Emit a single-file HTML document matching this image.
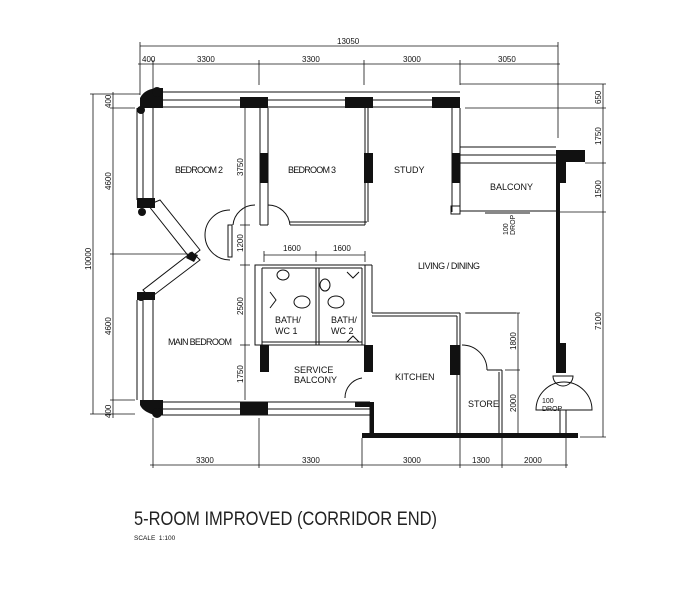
<!DOCTYPE html>
<html><head><style>
body{margin:0;background:#fff;}
svg{display:block;font-family:"Liberation Sans",sans-serif;}
.t{font-size:9px;fill:#111;}
.d{font-size:8px;fill:#111;}
</style></head><body>
<svg width="680" height="600" viewBox="0 0 680 600" xmlns="http://www.w3.org/2000/svg">
<rect width="680" height="600" fill="#fff"/>
<g stroke="#111" stroke-width="0.8" fill="none">
<line x1="140" y1="46" x2="558" y2="46"/>
<line x1="140" y1="42" x2="140" y2="95"/><line x1="558" y1="42" x2="558" y2="138"/>
<line x1="138" y1="64" x2="560" y2="64"/>
<line x1="153" y1="60" x2="153" y2="92"/><line x1="259" y1="60" x2="259" y2="85"/>
<line x1="364" y1="60" x2="364" y2="85"/><line x1="460" y1="60" x2="460" y2="85"/>
<line x1="93" y1="94" x2="93" y2="414"/><line x1="113" y1="92" x2="113" y2="418"/>
<line x1="90" y1="94" x2="140" y2="94"/><line x1="110" y1="108" x2="135" y2="108"/>
<line x1="110" y1="254" x2="195" y2="254"/><line x1="110" y1="400" x2="135" y2="400"/>
<line x1="90" y1="414" x2="135" y2="414"/>
<line x1="603" y1="84" x2="603" y2="437"/>
<line x1="460" y1="84" x2="606" y2="84"/><line x1="465" y1="108" x2="606" y2="108"/>
<line x1="585" y1="163" x2="606" y2="163"/><line x1="560" y1="212" x2="606" y2="212"/>
<line x1="580" y1="437" x2="606" y2="437"/>
<line x1="518" y1="313" x2="518" y2="437"/><line x1="465" y1="313" x2="520" y2="313"/><line x1="505" y1="370" x2="520" y2="370"/>
<line x1="150" y1="465" x2="568" y2="465"/>
<line x1="153" y1="418" x2="153" y2="468"/><line x1="259" y1="418" x2="259" y2="468"/>
<line x1="362" y1="438" x2="362" y2="468"/><line x1="460" y1="438" x2="460" y2="468"/>
<line x1="502" y1="438" x2="502" y2="468"/><line x1="566" y1="438" x2="566" y2="468"/>
<line x1="245" y1="108" x2="245" y2="400"/>
<line x1="240" y1="225" x2="250" y2="225"/><line x1="240" y1="265" x2="250" y2="265"/><line x1="240" y1="345" x2="250" y2="345"/>
<line x1="264" y1="255" x2="365" y2="255"/>
<line x1="264" y1="251" x2="264" y2="262"/><line x1="316" y1="251" x2="316" y2="262"/><line x1="365" y1="251" x2="365" y2="262"/>
</g>
<g stroke="#111" stroke-width="1" fill="none">
<line x1="160" y1="92" x2="460" y2="92"/><line x1="160" y1="100" x2="460" y2="100"/><line x1="160" y1="107" x2="460" y2="107"/>
<line x1="137" y1="108" x2="137" y2="200"/><line x1="143" y1="108" x2="143" y2="200"/><line x1="153" y1="108" x2="153" y2="200"/>
<polygon points="148,205 160,200 200,250 190,258"/>
<polygon points="143,290 150,298 200,260 192,252"/>
<line x1="137" y1="300" x2="137" y2="400"/><line x1="143" y1="300" x2="143" y2="400"/><line x1="153" y1="300" x2="153" y2="400"/>
<line x1="160" y1="402" x2="370" y2="402"/><line x1="160" y1="409" x2="370" y2="409"/><line x1="160" y1="415" x2="370" y2="415"/>
<line x1="370" y1="402" x2="370" y2="435"/>
<line x1="260" y1="108" x2="260" y2="225"/><line x1="268" y1="108" x2="268" y2="225"/>
<line x1="260" y1="225" x2="268" y2="225"/>
<path d="M268,205 A22,22 0 0 1 290,225"/><path d="M255,205 A22,22 0 0 0 233,225"/>
<line x1="290" y1="225" x2="365" y2="225"/><line x1="290" y1="222" x2="367" y2="222"/>
<line x1="365" y1="108" x2="365" y2="225"/><line x1="368" y1="108" x2="368" y2="222"/>
<line x1="452" y1="108" x2="452" y2="212"/><line x1="460" y1="108" x2="460" y2="212"/>
<rect x="451" y="206" width="9" height="8"/>
<line x1="460" y1="147" x2="556" y2="147"/><line x1="460" y1="155" x2="556" y2="155"/><line x1="460" y1="163" x2="556" y2="163"/>
<line x1="460" y1="211" x2="556" y2="211"/><line x1="485" y1="213" x2="530" y2="213"/>
<path d="M230,210 A25,25 0 0 0 230,260"/><rect x="228" y="225" width="4" height="32"/>
<rect x="255" y="265" width="110" height="80"/>
<line x1="262" y1="268" x2="262" y2="345"/>
<line x1="316" y1="268" x2="316" y2="345"/><line x1="319" y1="268" x2="319" y2="345"/>
<line x1="262" y1="268" x2="362" y2="268"/><line x1="362" y1="268" x2="362" y2="345"/>
<line x1="262" y1="342" x2="362" y2="342"/>
<ellipse cx="283" cy="275" rx="6" ry="5"/><ellipse cx="325" cy="285" rx="5" ry="6"/>
<ellipse cx="302" cy="302" rx="8" ry="6"/><ellipse cx="336" cy="302" rx="8" ry="6"/>
<path d="M270,292 L276,300 L270,308"/><path d="M347,272 L353,278 L359,272"/><path d="M347,342 L353,336 L359,342"/>
<path d="M345,398 A20,20 0 0 1 362,378"/>
<line x1="365" y1="265" x2="372" y2="265"/><line x1="372" y1="265" x2="372" y2="313"/>
<line x1="372" y1="313" x2="460" y2="313"/><line x1="372" y1="316" x2="457" y2="316"/>
<line x1="457" y1="316" x2="457" y2="435"/><line x1="460" y1="313" x2="460" y2="435"/>
<path d="M462,345 A25,25 0 0 1 487,370"/>
<line x1="487" y1="370" x2="502" y2="370"/><line x1="499" y1="372" x2="499" y2="435"/><line x1="502" y1="370" x2="502" y2="435"/>
<line x1="466" y1="313" x2="516" y2="313"/>
<path d="M536,410 A28,28 0 0 1 592,410 Z"/>
<path d="M553,376 A10,10 0 0 0 573,376 Z"/>
<line x1="560" y1="410" x2="560" y2="433"/><line x1="566" y1="410" x2="566" y2="433"/>
</g>
<g fill="#111">
<path d="M140,108 L140,98 Q145,88 160,88 L163,88 L163,108 Z"/>
<circle cx="157" cy="92" r="5"/><circle cx="141" cy="110" r="4"/>
<rect x="240" y="97" width="28" height="11"/><rect x="345" y="97" width="28" height="11"/><rect x="432" y="97" width="28" height="11"/>
<rect x="137" y="198" width="18" height="10"/><circle cx="142" cy="212" r="4"/>
<rect x="137" y="292" width="18" height="8"/><circle cx="141" cy="297" r="4"/>
<path d="M140,400 L163,400 L163,415 L155,415 Q143,412 140,405 Z"/><circle cx="157" cy="413" r="5"/>
<rect x="240" y="402" width="28" height="13"/>
<rect x="260" y="153" width="8" height="30"/><rect x="364" y="153" width="9" height="30"/>
<rect x="452" y="153" width="8" height="30"/>
<rect x="556" y="150" width="29" height="12"/><rect x="556" y="150" width="10" height="33"/>
<rect x="556" y="183" width="4" height="160"/>
<rect x="556" y="343" width="10" height="30"/>
<rect x="260" y="345" width="9" height="27"/><rect x="364" y="345" width="9" height="27"/>
<rect x="450" y="345" width="10" height="30"/>
<rect x="362" y="433" width="216" height="5"/>
<rect x="370" y="402" width="4" height="33"/><rect x="355" y="402" width="18" height="5"/>
<polygon points="190,252 198,255 194,262 186,258"/>
</g>
<g class="t">
<text x="175" y="173" textLength="48">BEDROOM 2</text>
<text x="288" y="173" textLength="48">BEDROOM 3</text>
<text x="394" y="173">STUDY</text>
<text x="490" y="190">BALCONY</text>
<text x="418" y="269" textLength="62">LIVING / DINING</text>
<text x="168" y="345" textLength="64">MAIN BEDROOM</text>
<text x="275" y="323">BATH/</text><text x="275" y="334">WC 1</text>
<text x="331" y="323">BATH/</text><text x="331" y="334">WC 2</text>
<text x="294" y="373">SERVICE</text><text x="294" y="383">BALCONY</text>
<text x="395" y="380">KITCHEN</text>
<text x="468" y="407">STORE</text>
</g>
<g class="d">
<text x="337" y="44">13050</text>
<text x="142" y="62">400</text><text x="197" y="62">3300</text><text x="302" y="62">3300</text>
<text x="403" y="62">3000</text><text x="498" y="62">3050</text>
<text x="196" y="463">3300</text><text x="302" y="463">3300</text><text x="403" y="463">3000</text>
<text x="472" y="463">1300</text><text x="524" y="463">2000</text>
<text x="283" y="251">1600</text><text x="333" y="251">1600</text>
<text x="542" y="403" style="font-size:7px">100</text><text x="542" y="411" style="font-size:7px">DROP</text>
<g transform="rotate(-90)">
<text x="-108" y="111">400</text><text x="-190" y="111">4600</text><text x="-270" y="91">10000</text>
<text x="-335" y="111">4600</text><text x="-418" y="111">400</text>
<text x="-176" y="243">3750</text><text x="-252" y="243">1200</text><text x="-315" y="243">2500</text><text x="-383" y="243">1750</text>
<text x="-104" y="601">650</text><text x="-145" y="601">1750</text><text x="-198" y="601">1500</text><text x="-330" y="601">7100</text>
<text x="-350" y="516">1800</text><text x="-412" y="516">2000</text>
<text x="-235" y="508" style="font-size:7px">100</text><text x="-235" y="515" style="font-size:7px">DROP</text>
</g>
</g>
<text x="134" y="525" textLength="303" lengthAdjust="spacingAndGlyphs" style="font-size:19px;fill:#222">5-ROOM IMPROVED (CORRIDOR END)</text>
<text x="134" y="540" style="font-size:6.5px;fill:#111">SCALE&#160;&#160;1:100</text>
</svg>
</body></html>
